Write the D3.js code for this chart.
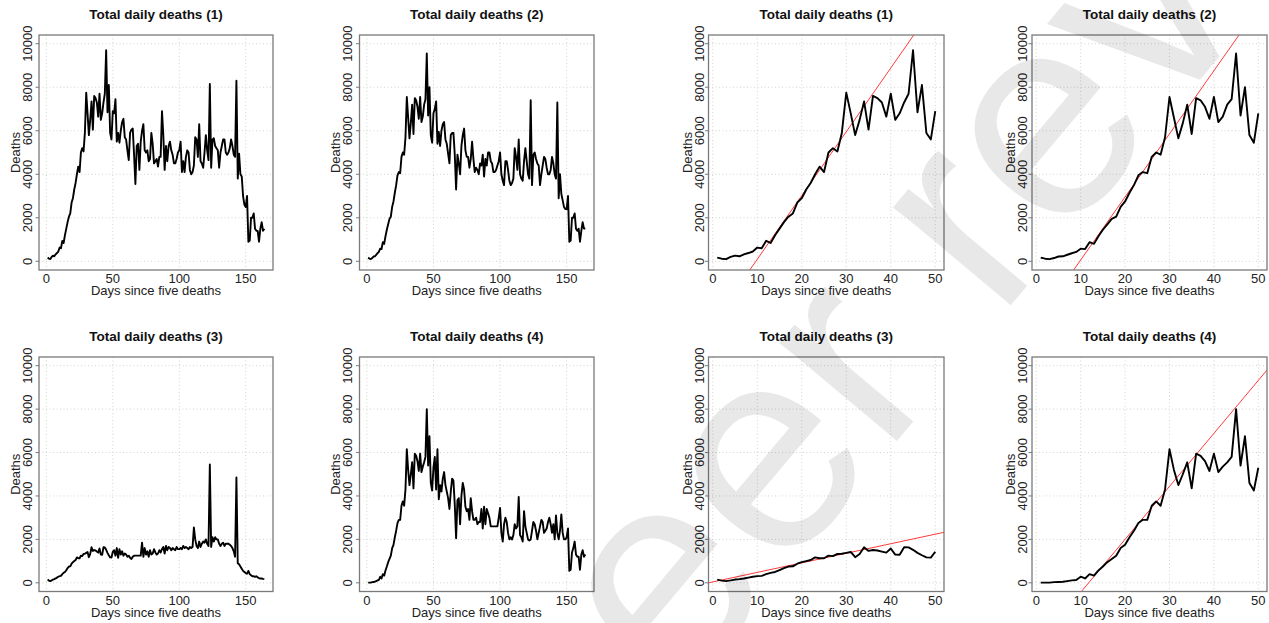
<!DOCTYPE html>
<html>
<head>
<meta charset="utf-8">
<script src="https://cdn.jsdelivr.net/npm/d3@7"></script>
<style>
  html, body { margin: 0; padding: 0; background: #fff; }
  svg { display: block; font-family: "Liberation Sans", Arial, Helvetica, sans-serif; }
</style>
</head>
<body>
<svg id="chart" width="1269" height="623"></svg>
<script>
// Daily deaths, indexed by day since the fifth death (day 1 .. 164)
const deaths1 = [
  170,120,100,200,260,230,320,380,450,630, 600,940,840,1200,1500,1800,2050,2200,2700,2900,
  3300,3600,4000,4350,4100,5000,5200,5050,5900,7750, 6800,5800,6500,7350,6050,7600,7500,7300,6650,7700,
  6500,6800,7300,7700,9700,6850,8100,5900,5600,6900,
  6800,7450,5500,5900,5450,6000,6400,6550,5700,5600, 5100,4650,5900,6050,6100,4900,3550,5300,5400,4200,
  5500,6000,6300,5100,5000,5100,4600,4700,5900,5400, 4500,4600,4700,4350,4800,4800,6900,5800,4200,5300,
  4600,5300,5500,5100,4900,4500,4500,4700,5000,5100, 5500,4100,4600,4100,4800,5100,5000,4200,4000,4100,
  4400,5700,5600,4800,6300,4600,4500,4300,5000,5800, 5100,4650,8150,4300,5600,5650,5300,5200,5100,4300,
  5000,5300,5600,5600,5000,4900,5000,5200,5600,5300, 4900,4800,8300,3800,4950,4000,3900,3000,2600,2500,
  3000,900,950,2000,2000,2200,1500,1400,1400,900, 1500,1800,1400,1500
];
const deaths2 = [
  170,120,100,150,220,230,300,370,430,580, 560,880,800,1150,1450,1700,1950,2050,2500,2750,
  3150,3500,3950,4100,4050,4800,5000,4900,5700,7550, 6600,5650,6350,7200,5850,7500,7400,7100,6550,7550,
  6400,6650,7200,7450,9550,6700,8000,5800,5450,6800,
  7000,7350,5400,5950,5300,6000,6300,6400,5600,5400, 4950,4500,5800,5900,5900,4900,3300,4900,4500,4000,
  5300,5800,6100,5100,4800,4800,4300,4700,5500,4700, 4100,4300,4200,4000,4500,4400,4900,3900,4700,4400,
  5000,5000,4600,4500,4100,4100,4200,4400,4600,5000, 4000,3700,3500,4600,4600,4200,3700,3500,3600,3800,
  5200,4800,4200,5600,4000,3800,3700,4600,5200,4600, 4000,3800,7400,3500,4900,5000,4700,4500,4400,3500,
  4000,4400,4800,4700,4300,4000,4000,4200,4800,4500, 4000,3800,7300,2900,4000,3100,2800,2500,2400,2400,
  3000,900,950,2000,2000,2200,1500,1400,1500,900, 1400,1800,1500,1500
];
const deaths3 = [
  150,100,80,110,150,170,200,240,280,310, 320,400,460,500,580,680,750,760,880,950,
  1000,1050,1170,1130,1130,1250,1230,1330,1340,1380, 1420,1180,1330,1640,1470,1510,1490,1440,1390,1580,
  1300,1290,1640,1630,1520,1380,1270,1170,1160,1430,
  1500,1250,1600,1150,1550,1300,1450,1250,1350,
  1300,1200,1250,1150,1100,1200,1250,1250,1250,1250,1250,1250,
  1850,
  1200,1600,1300,1450,1200,1500,1300,1350,1550,1400, 1300,1350,1500,1400,1550,1650,1350,1700,1500,1650,
  1600,1500,1600,1550,1500,1650,1550,1550,1600,1550, 1700,1600,1650,1600,1550,1650,1600,1650,
  2550,
  2000,1700,1600,1900,1650,1800,1900,1850,2000,1800,1700,
  5450,
  1650,2100,1900,2100,2000,2000,1800,1700,1800,1850, 1700,1800,1800,1800,1750,1700,1600,1450,1200,
  4850,
  900,850,750,650,550,500,450,420,550,400, 350,300,300,280,300,250,220,200,200,180,170
];
const deaths4 = [
  10,10,10,30,40,50,80,110,130,280, 200,400,330,570,750,950,1100,1250,1600,1750,
  2100,2400,2750,2900,2900,3550,3750,3550,4300,6150, 5200,4500,5000,5550,4350,5950,5850,5600,5150,5950,
  5100,5350,5550,5800,8000,5400,6750,4600,4250,5300,
  5800,4300,6150,3850,4500,4200,4800,5100,4500,4200, 3900,3400,4200,4800,4700,3600,2050,3800,3900,2700,
  4000,4600,4300,3500,3300,3400,2900,3900,3300,2900, 2900,3000,2700,2800,2800,3400,2500,3500,2700,3400,
  3200,3000,2600,2600,2600,2600,2600,2600,3000,
  3450,2300,1900,2700,3000,2800,2300,2000,2100,2000, 2200,2700,2500,2600,3950,2200,2100,1900,3300,2600,
  2300,2000,1950,2000,2400,2800,2700,2400,2000,2300, 2600,2900,2800,2300,2400,2500,2800,3000,2700,2300,
  2700,2000,3100,2300,2000,2400,3150,2300,2000,2000,2100,2500,
  550,600,1400,1600,1900,1300,1200,1200,600,1300,1500,1200,1300
];

const seriesList = [deaths1, deaths2, deaths3, deaths4];
const panelTitles = ["Total daily deaths (1)", "Total daily deaths (2)", "Total daily deaths (3)", "Total daily deaths (4)"];

// Straight-line fits over the early growth phase: deaths = slope * day + intercept
const fitSlope = [293, 290, 44, 244];
const fitIntercept = [-2836, -2842, 40, -2879];

const yTicks = [0, 2000, 4000, 6000, 8000, 10000];
const xTicksFull = [0, 50, 100, 150];
const xTicksEarly = [0, 10, 20, 30, 40, 50];
const earlyDays = 50;

const xLabel = "Days since five deaths";
const yLabel = "Deaths";
const watermarkText = "peer review";

// ---- layout ----
const svg = d3.select("#chart");
const rowsY = [[35, 270], [357, 591.5]];
const fullCols = [[39, 273], [359.5, 594]];
const earlyCols = [[708.5, 944], [1032, 1267]];

let clipId = 0;

function drawPanel(box, values, xTicks, title, fit, tickGap, labelGap) {
  const [x0, x1, y0, y1] = box;
  const n = values.length;
  const pad = 0.04 * (n - 1);
  const x = d3.scaleLinear().domain([1 - pad, n + pad]).range([x0, x1]);
  const y = d3.scaleLinear().domain([-400, 10400]).range([y1, y0]);
  const g = svg.append("g");

  const id = "clip" + (clipId++);
  g.append("clipPath").attr("id", id)
    .append("rect").attr("x", x0).attr("y", y0).attr("width", x1 - x0).attr("height", y1 - y0);

  // dotted grid at the tick positions
  g.selectAll(".gx").data(xTicks).join("line")
    .attr("x1", d => x(d)).attr("x2", d => x(d)).attr("y1", y0).attr("y2", y1)
    .attr("stroke", "#d3d3d3").attr("stroke-width", 1).attr("stroke-dasharray", "1,2.5");
  g.selectAll(".gy").data(yTicks).join("line")
    .attr("x1", x0).attr("x2", x1).attr("y1", d => y(d)).attr("y2", d => y(d))
    .attr("stroke", "#d3d3d3").attr("stroke-width", 1).attr("stroke-dasharray", "1,2.5");

  // fitted line
  if (fit) {
    const xd = x.domain();
    g.append("line")
      .attr("clip-path", `url(#${id})`)
      .attr("x1", x(xd[0])).attr("y1", y(fit.slope * xd[0] + fit.intercept))
      .attr("x2", x(xd[1])).attr("y2", y(fit.slope * xd[1] + fit.intercept))
      .attr("stroke", "#ff3a3a").attr("stroke-width", 1);
  }

  // daily deaths
  const line = d3.line().x((d, i) => x(i + 1)).y(d => y(d));
  g.append("path").datum(values)
    .attr("clip-path", `url(#${id})`)
    .attr("d", line)
    .attr("fill", "none").attr("stroke", "#000").attr("stroke-width", 1.9)
    .attr("stroke-linejoin", "round");

  // frame
  g.append("rect").attr("x", x0).attr("y", y0).attr("width", x1 - x0).attr("height", y1 - y0)
    .attr("fill", "none").attr("stroke", "#7a7a7a").attr("stroke-width", 1.3);

  // y ticks and labels
  g.selectAll(".ty").data(yTicks).join("line")
    .attr("x1", x0 - 3.5).attr("x2", x0).attr("y1", d => y(d)).attr("y2", d => y(d))
    .attr("stroke", "#7a7a7a").attr("stroke-width", 1);
  g.selectAll(".ly").data(yTicks).join("text")
    .attr("transform", d => `translate(${x0 - tickGap},${y(d)}) rotate(-90)`)
    .attr("text-anchor", "middle").attr("font-size", 13).attr("fill", "#222")
    .text(d => d);

  // x labels
  g.selectAll(".lx").data(xTicks).join("text")
    .attr("x", d => x(d)).attr("y", y1 + 13)
    .attr("text-anchor", "middle").attr("font-size", 13).attr("fill", "#222")
    .text(d => d);

  g.append("text")
    .attr("x", (x0 + x1) / 2).attr("y", y1 + 25)
    .attr("text-anchor", "middle").attr("font-size", 13).attr("fill", "#222")
    .text(xLabel);

  g.append("text")
    .attr("transform", `translate(${x0 - labelGap},${(y0 + y1) / 2}) rotate(-90)`)
    .attr("text-anchor", "middle").attr("font-size", 13).attr("fill", "#222")
    .text(yLabel);

  g.append("text")
    .attr("x", (x0 + x1) / 2).attr("y", y0 - 16)
    .attr("text-anchor", "middle").attr("font-size", 13.5).attr("font-weight", "bold").attr("fill", "#111")
    .text(title);
}

seriesList.forEach((values, k) => {
  const r = Math.floor(k / 2), c = k % 2;
  const [y0, y1] = rowsY[r];
  const fc = fullCols[c];
  drawPanel([fc[0], fc[1], y0, y1], values, xTicksFull, panelTitles[k], null, 7.5, 19.5);
  const ec = earlyCols[c];
  drawPanel([ec[0], ec[1], y0, y1], values.slice(0, earlyDays), xTicksEarly, panelTitles[k],
    { slope: fitSlope[k], intercept: fitIntercept[k] }, 5, 17);
});

// diagonal watermark
svg.append("text")
  .attr("transform", "translate(573,827) rotate(-50)")
  .attr("font-size", 290)
  .attr("fill", "#000").attr("fill-opacity", 0.09)
  .style("pointer-events", "none")
  .text(watermarkText);
</script>
</body>
</html>
